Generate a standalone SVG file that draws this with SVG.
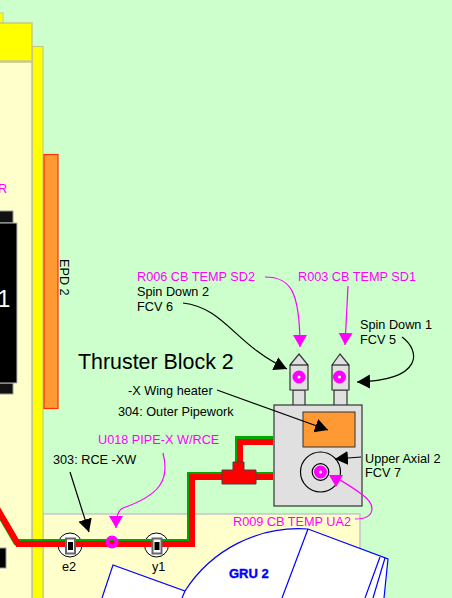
<svg xmlns="http://www.w3.org/2000/svg" width="452" height="598" viewBox="0 0 452 598">
<style>
text{font-family:"Liberation Sans",Arial,sans-serif;font-size:12.700px;fill:#000}
.m{fill:#ff00ff}
.c{fill:none;stroke:#000;stroke-width:1.2}
.p{fill:none;stroke:#ff00ff;stroke-width:1.2}
.g{fill:#e0e0e0;stroke:#333;stroke-width:1.2}
.red{fill:none;stroke:#f00;stroke-width:6;stroke-linejoin:miter}
.grn{fill:none;stroke:#00a800;stroke-width:6}
.blue{fill:none;stroke:#0000ff;stroke-width:1.2}
.ring{fill:#fff;stroke:#ff00ff;stroke-width:5}
.vc{fill:#fff;stroke:#000;stroke-width:1}
.vr{fill:#fff;stroke:#666;stroke-width:2}
</style>
<defs>
<marker id="ab" markerUnits="userSpaceOnUse" markerWidth="15" markerHeight="16" refX="13" refY="7.500" orient="auto"><path d="M0 0.500L13 7.500L0 14.500z" fill="#000"/></marker>
<marker id="am" markerUnits="userSpaceOnUse" markerWidth="15" markerHeight="16" refX="12" refY="7.500" orient="auto"><path d="M0 0.500L12 7.500L0 14.500z" fill="#ff00ff"/></marker>
<marker id="amd" markerUnits="userSpaceOnUse" markerWidth="15" markerHeight="16" refX="5" refY="3.500" orient="90"><path d="M0 0.500L12 7.500L0 14.500z" fill="#ff00ff"/></marker>
</defs>
<rect width="452" height="598" fill="#ccffcc"/>
<g id="panel-left">
<rect x="-2" y="62" width="34" height="538" fill="#ffffcc" stroke="#c8c888" stroke-width="1.500"/>
<rect x="-2" y="13" width="5" height="10" fill="#ffff00" stroke="#c8c888"/>
<rect x="-2" y="23" width="34" height="38" fill="#ffff00" stroke="#c8c888" stroke-width="1.500"/>
</g>
<g id="panel-bottom">
<rect x="43" y="514" width="317" height="90" fill="#ffffcc" stroke="#c8c8c8" stroke-width="1.600"/>
</g>
<g id="strip"><rect x="32.500" y="46.500" width="10.500" height="553" fill="#ffff00" stroke="#c8c888" stroke-width="1.200"/></g>
<g id="epd2">
<rect x="44" y="154.500" width="14" height="254" fill="#ff9933" stroke="#ff3300" stroke-width="1.200"/>
<text transform="translate(60,259) rotate(90)">EPD 2</text>
</g>
<g id="chip">
<rect x="-2" y="211" width="15" height="12" fill="#111" stroke="#999"/>
<rect x="-2" y="383" width="15" height="11" fill="#111" stroke="#999"/>
<rect x="-2" y="223" width="19" height="160" fill="#000" stroke="#bbb"/>
<text x="-2.500" y="307" style="font-size:23px;fill:#fff">1</text>
</g>
<text x="-2" y="193" class="m">R</text>
<g id="chip-low"><rect x="-2" y="548" width="8" height="20" fill="#000" stroke="#999"/></g>
<g id="gru2">
<path d="M113 565L185 591A135 135 0 0 1 308 529L388 559L384 600L102 600Z" fill="#fff"/>
<path class="blue" d="M102 598L113 565L185 591A135 135 0 0 1 308 529L388 559L384 598M185 591L182 598M308 529L282 598M380 557L365 598M385 558L373 598"/>
<text x="229" y="578" style="font-size:13px;font-weight:bold;fill:#0000ff;stroke:#0000ff;stroke-width:.4">GRU 2</text>
</g>
<g id="pipes">
<path class="grn" d="M-8 501L16 542L190 542L190 475L238 475L238 439L273 439M224 475L273 475"/>
<path class="red" d="M-6 503L18 544L192 544L192 477L273 477M240 477L240 442L273 442"/>
</g>
<g id="t-piece"><path d="M222 470L233 470L233 462L244 462L244 470L256 470L256 484L222 484Z" fill="#f00" stroke="#444" stroke-width="1"/></g>
<g id="block">
<rect x="293" y="390" width="12" height="16" class="g"/>
<rect x="334" y="390" width="13" height="16" class="g"/>
<rect x="274" y="405" width="88" height="101" class="g"/>
<path class="g" d="M290 365L299 354L308 365V390H290Z"/>
<path class="g" d="M332 365L340 354L349 365V390H332Z"/>
<path d="M290 365H308M332 365H349" class="c"/>
<circle cx="299" cy="377" r="4" class="ring"/>
<circle cx="339.500" cy="377" r="4" class="ring"/>
<rect x="303" y="412" width="52" height="35" fill="#ff9933" stroke="#333"/>
<circle cx="320.500" cy="472" r="20" fill="none" stroke="#000" stroke-width="1.200"/>
<circle cx="320.500" cy="472" r="8.300" fill="none" stroke="#000" stroke-width="1.200"/>
<circle cx="320.500" cy="472" r="4" class="ring"/>
</g>
<g id="valve-e2">
<circle cx="70" cy="545" r="12" class="vc"/>
<rect x="58" y="539" width="24" height="2" fill="#00a800"/><rect x="58" y="541" width="24" height="6" fill="#f00"/>
<rect x="66" y="538.500" width="9" height="15" class="vr"/><rect x="68" y="542" width="5" height="8" fill="#000"/>
<text x="62" y="571">e2</text>
</g>
<g id="valve-y1">
<circle cx="156.500" cy="545" r="12" class="vc"/>
<rect x="144" y="539" width="25" height="2" fill="#00a800"/><rect x="144" y="541" width="25" height="6" fill="#f00"/>
<rect x="152.500" y="538.500" width="9" height="15" class="vr"/><rect x="154.500" y="542" width="5" height="8" fill="#000"/>
<text x="152" y="571">y1</text>
</g>
<g id="sensor-u018"><circle cx="112" cy="542" r="4.500" fill="none" stroke="#ff00ff" stroke-width="4"/></g>
<g id="connectors">
<path class="c" d="M183 303C225 308 235 345 287 369" marker-end="url(#ab)"/>
<path class="c" d="M402 337C420 350 425 380 357 382" marker-end="url(#ab)"/>
<path class="c" d="M217 390L328 430" marker-end="url(#ab)"/>
<path class="c" d="M361 457L335 459" marker-end="url(#ab)"/>
<path class="c" d="M70 472L89 532" marker-end="url(#ab)"/>
<path class="p" d="M265 277C290 277 300 290 300 347" marker-end="url(#am)"/>
<path class="p" d="M348 286L345 345" marker-end="url(#am)"/>
<path class="p" d="M163 453C170 480 160 495 123 508C118 510 116 516 116 528" marker-end="url(#am)"/>
<path class="p" d="M355 519C375 519 378 505 360 493C352 487 345 483 340 480" marker-end="url(#amd)"/>
</g>
<g id="labels">
<text x="137" y="281" class="m">R006 CB TEMP SD2</text>
<text x="298" y="281" class="m">R003 CB TEMP SD1</text>
<text x="137" y="296">Spin Down 2</text>
<text x="137" y="311">FCV 6</text>
<text x="360" y="329">Spin Down 1</text>
<text x="360" y="344">FCV 5</text>
<text x="78" y="369" style="font-size:21.400px">Thruster Block 2</text>
<text x="128" y="395">-X Wing heater</text>
<text x="118" y="416">304: Outer Pipework</text>
<text x="98" y="444" class="m">U018 PIPE-X W/RCE</text>
<text x="53" y="464">303: RCE -XW</text>
<text x="365" y="463">Upper Axial 2</text>
<text x="365" y="477">FCV 7</text>
<text x="233" y="526" class="m">R009 CB TEMP UA2</text>
</g>
</svg>
